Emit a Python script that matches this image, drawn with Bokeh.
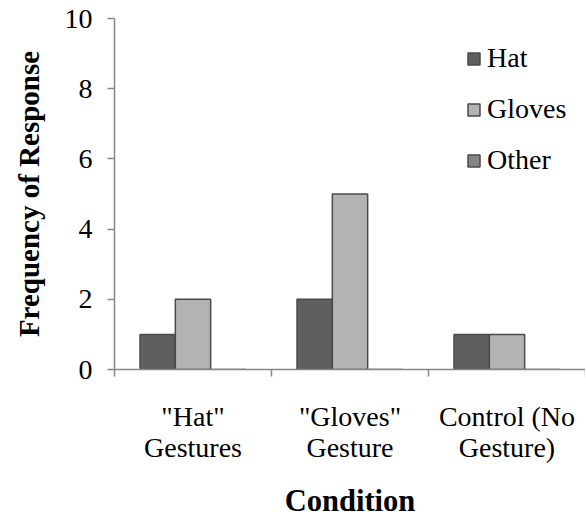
from bokeh.plotting import figure
from bokeh.models import Range1d, FixedTicker, Legend, LegendItem, ColumnDataSource
from bokeh.embed import file_html
from bokeh.resources import INLINE

categories = ['"Hat"\nGestures', '"Gloves"\nGesture', 'Control (No\nGesture)']
series = ["Hat", "Gloves", "Other"]
hat = [1, 2, 1]
gloves = [2, 5, 1]
other = [0, 0, 0]
y_ticks = [0, 2, 4, 6, 8, 10]

colors = ["#5f5f5f", "#b3b3b3", "#858585"]
FONT = "'Liberation Serif', 'Times New Roman', 'Nimbus Roman', 'FreeSerif', 'Noto Serif', serif"

p = figure(output_backend="svg", toolbar_location=None,
           frame_width=471, frame_height=351,
           min_border_left=114, min_border_right=0, min_border_top=18, min_border_bottom=147,
           x_range=Range1d(0, len(categories)), y_range=Range1d(0, 10))
p.outline_line_color = None
p.xgrid.grid_line_color = None
p.ygrid.grid_line_color = None
p.background_fill_color = "white"
p.border_fill_color = "white"

bar_w = 0.225
offsets = [-bar_w, 0.0, bar_w]
renderers = []
for name, vals, off, col in zip(series, [hat, gloves, other], offsets, colors):
    src = ColumnDataSource(dict(x=[i + 0.5 + off for i in range(len(categories))], top=vals))
    r = p.vbar(x="x", top="top", bottom=0, width=bar_w, source=src,
               fill_color=col, line_color="#4a4a4a", line_width=1.5)
    renderers.append((name, r))

legend = Legend(items=[LegendItem(label=n, renderers=[r]) for n, r in renderers],
                location=(352, 193), orientation="vertical",
                label_text_font=FONT, label_text_font_size="28px", label_text_color="black",
                glyph_width=15, glyph_height=15, label_standoff=6, spacing=19,
                padding=0, margin=0, border_line_color=None, background_fill_alpha=0)
p.add_layout(legend)

# x axis
xa = p.xaxis[0]
xa.ticker = FixedTicker(ticks=[i + 0.5 for i in range(len(categories))],
                        minor_ticks=list(range(len(categories) + 1)))
xa.major_label_overrides = {i + 0.5: c for i, c in enumerate(categories)}
xa.major_tick_line_color = None
xa.major_tick_out = 0
xa.major_tick_in = 0
xa.minor_tick_line_color = "#868686"
xa.minor_tick_line_width = 1.5
xa.minor_tick_out = 7
xa.minor_tick_in = 0
xa.axis_line_color = "#868686"
xa.axis_line_width = 1.5
xa.major_label_text_font = FONT
xa.major_label_text_font_size = "28px"
xa.major_label_text_color = "black"
xa.major_label_text_line_height = 1.0
xa.major_label_standoff = 24
xa.axis_label = "Condition"
xa.axis_label_text_font = FONT
xa.axis_label_text_font_size = "30.5px"
xa.axis_label_text_font_style = "bold"
xa.axis_label_text_color = "black"
xa.axis_label_standoff = 18

# y axis
ya = p.yaxis[0]
ya.ticker = FixedTicker(ticks=y_ticks)
ya.major_tick_line_color = "#868686"
ya.major_tick_line_width = 1.5
ya.major_tick_out = 7
ya.major_tick_in = 0
ya.minor_tick_line_color = None
ya.axis_line_color = "#868686"
ya.axis_line_width = 1.5
ya.major_label_text_font = FONT
ya.major_label_text_font_size = "28px"
ya.major_label_text_color = "black"
ya.major_label_standoff = 15
ya.axis_label = "Frequency of Response"
ya.axis_label_text_font = FONT
ya.axis_label_text_font_size = "29px"
ya.axis_label_text_font_style = "bold"
ya.axis_label_text_color = "black"
ya.axis_label_standoff = 17

open("out.html", "w").write(file_html(p, INLINE))
